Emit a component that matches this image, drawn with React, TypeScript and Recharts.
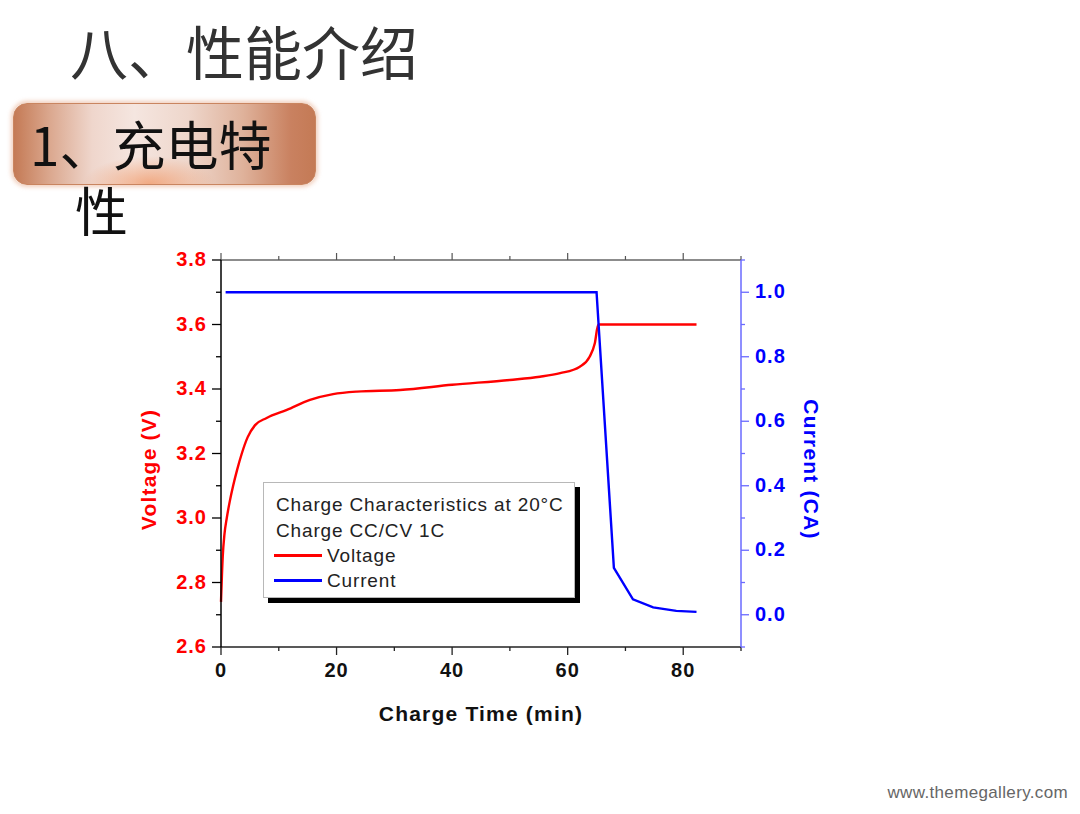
import React from 'react';
import { LineChart, Line, XAxis, YAxis } from 'recharts';

// ---- data ----
const timeMajorTicks = [0, 20, 40, 60, 80];
const timeMinorTicks = [10, 30, 50, 70, 90];
const voltageMajorTicks = [2.6, 2.8, 3.0, 3.2, 3.4, 3.6, 3.8];
const voltageMinorTicks = [2.7, 2.9, 3.1, 3.3, 3.5, 3.7];
const currentMajorTicks = [0.0, 0.2, 0.4, 0.6, 0.8, 1.0];
const currentMinorTicks = [-0.1, 0.1, 0.3, 0.5, 0.7, 0.9, 1.1];

const voltageTime = [0, 0.3, 0.6, 1.0, 1.5, 2.1, 2.8, 3.6, 4.6, 5.9, 7.9, 11.4, 15.4, 19.4, 23.5, 31, 40, 50, 55.2, 58.7, 62.1, 63.8, 64.7, 65.3, 82.3];
const voltageValues = [2.74, 2.88, 2.95, 3.0, 3.05, 3.1, 3.15, 3.2, 3.25, 3.288, 3.31, 3.335, 3.366, 3.384, 3.392, 3.397, 3.413, 3.428, 3.438, 3.449, 3.469, 3.5, 3.542, 3.6, 3.6];

const currentTime = [0.8, 65.0, 68.0, 71.3, 74.8, 78.8, 82.3];
const currentValues = [1.0, 1.0, 0.145, 0.048, 0.023, 0.012, 0.009];

const voltageData = voltageTime.map((t, i) => ({ time: t, voltage: voltageValues[i] }));
const currentData = currentTime.map((t, i) => ({ time: t, current: currentValues[i] }));

const sortNum = (a: number[]) => [...a].sort((p, q) => p - q);
const timeTicks = sortNum([...timeMajorTicks, ...timeMinorTicks]);
const voltageTicks = sortNum([...voltageMajorTicks, ...voltageMinorTicks]);
const currentTicks = sortNum([...currentMajorTicks, ...currentMinorTicks]);

const isIn = (arr: number[], v: number) => arr.some((a) => Math.abs(a - v) < 1e-6);

const FONT = '"Liberation Sans", Arial, sans-serif';
const CJK = '"Noto Sans CJK SC", sans-serif';
const RED = '#ff0000';
const BLUE = '#0000ff';
const AXIS_BLUE = '#6a6aff';

const labelStyle = {
  fontFamily: FONT,
  fontSize: 20,
  fontWeight: 700,
  letterSpacing: 1,
};

const LeftTick = (props: any) => {
  const { x, y, payload } = props;
  const v = payload.value;
  const major = isIn(voltageMajorTicks, v);
  const len = major ? 9 : 5;
  return (
    <g>
      <line x1={x} x2={x - len} y1={y} y2={y} stroke="#000" strokeWidth={1.3} />
      {major && (
        <text x={x - 14} y={y + 6} textAnchor="end" fill={RED} style={labelStyle}>
          {v.toFixed(1)}
        </text>
      )}
    </g>
  );
};

const RightTick = (props: any) => {
  const { x, y, payload } = props;
  const v = payload.value;
  const major = isIn(currentMajorTicks, v);
  const len = major ? 8 : 4;
  return (
    <g>
      <line x1={x} x2={x + len} y1={y} y2={y} stroke={AXIS_BLUE} strokeWidth={1.3} />
      {major && (
        <text x={x + 14} y={y + 6} textAnchor="start" fill={BLUE} style={labelStyle}>
          {Math.abs(v).toFixed(1)}
        </text>
      )}
    </g>
  );
};

const BottomTick = (props: any) => {
  const { x, y, payload } = props;
  const v = payload.value;
  const major = isIn(timeMajorTicks, v);
  const len = major ? 8 : 4;
  return (
    <g>
      <line x1={x} x2={x} y1={y} y2={y + len} stroke="#222" strokeWidth={1.3} />
      {major && (
        <text x={x} y={y + 30} textAnchor="middle" fill="#111" style={labelStyle}>
          {String(v)}
        </text>
      )}
    </g>
  );
};

const TopTick = (props: any) => {
  const { x, y, payload } = props;
  const v = payload.value;
  const major = isIn(timeMajorTicks, v);
  const len = major ? 7 : 4;
  return <line x1={x} x2={x} y1={y} y2={y - len} stroke="#555" strokeWidth={1.2} />;
};

const titleStyle = {
  fontFamily: FONT,
  fontSize: 21,
  fontWeight: 700,
  letterSpacing: 1.2,
};

const VoltageLabel = (props: any) => {
  const vb = props.viewBox || {};
  const cx = vb.x + 7;
  const cy = vb.y + vb.height / 2 + 16;
  return (
    <text
      x={cx}
      y={cy}
      textAnchor="middle"
      dominantBaseline="central"
      fill={RED}
      transform={`rotate(-90 ${cx} ${cy})`}
      style={titleStyle}
    >
      Voltage (V)
    </text>
  );
};

const CurrentLabel = (props: any) => {
  const vb = props.viewBox || {};
  const cx = vb.x + 70;
  const cy = vb.y + vb.height / 2 + 16;
  return (
    <text
      x={cx}
      y={cy}
      textAnchor="middle"
      dominantBaseline="central"
      fill={BLUE}
      transform={`rotate(90 ${cx} ${cy})`}
      style={titleStyle}
    >
      Current (CA)
    </text>
  );
};

const TimeLabel = (props: any) => {
  const vb = props.viewBox || {};
  const cx = vb.x + vb.width / 2;
  const cy = vb.y + 66;
  return (
    <text x={cx} y={cy} textAnchor="middle" dominantBaseline="central" fill="#111" style={titleStyle}>
      Charge Time (min)
    </text>
  );
};

const legendLines = ['Charge Characteristics at 20°C', 'Charge CC/CV 1C'];
const legendSeries = [
  { name: 'Voltage', color: RED },
  { name: 'Current', color: BLUE },
];

export default function App() {
  return (
    <div
      style={{
        position: 'absolute',
        left: 0,
        top: 0,
        width: 1080,
        height: 814,
        background: '#fff',
        overflow: 'hidden',
      }}
    >
      {/* Slide title */}
      <div
        style={{
          position: 'absolute',
          left: 70,
          top: 21,
          fontFamily: CJK,
          fontSize: 58,
          lineHeight: '58px',
          color: '#333',
          whiteSpace: 'nowrap',
        }}
      >
        八、性能介绍
      </div>

      {/* Sub-title box */}
      <div
        style={{
          position: 'absolute',
          left: 13,
          top: 103,
          width: 303,
          height: 82,
          borderRadius: 14,
          border: '1px solid #c98560',
          boxShadow: '0 0 4px 2px rgba(232,175,145,0.6)',
          background:
            'radial-gradient(ellipse 22% 35% at 45% 100%, rgba(240,150,100,0.75), rgba(240,150,100,0) 100%), linear-gradient(90deg, #c47a55 0%, #dba88f 12%, #efd6cc 26%, #f5e6e0 40%, #eed6cb 58%, #dfb29b 76%, #c98160 92%, #c47a55 100%)',
          boxSizing: 'border-box',
        }}
      />
      {/* Sub-title text: wraps, second line indented */}
      <div
        style={{
          position: 'absolute',
          left: 75,
          top: 110,
          width: 215,
          textIndent: -45,
          fontFamily: CJK,
          fontSize: 53,
          lineHeight: '66px',
          color: '#111',
        }}
      >
        1、充电特性
      </div>

      {/* Chart */}
      <div style={{ position: 'absolute', left: 0, top: 0 }}>
        <LineChart width={1080} height={814} margin={{ top: 250, right: 259, bottom: 87, left: 141 }}>
          <XAxis
            xAxisId="bottom"
            dataKey="time"
            type="number"
            orientation="bottom"
            domain={[0, 90]}
            ticks={timeTicks}
            interval={0}
            height={80}
            tickSize={0}
            tickMargin={0}
            tickLine={false}
            axisLine={{ stroke: '#222', strokeWidth: 1.5 }}
            tick={BottomTick}
            label={TimeLabel}
          />
          <XAxis
            xAxisId="top"
            dataKey="time"
            type="number"
            orientation="top"
            domain={[0, 90]}
            ticks={timeTicks}
            interval={0}
            height={10}
            tickSize={0}
            tickMargin={0}
            tickLine={false}
            axisLine={{ stroke: '#666', strokeWidth: 1.3 }}
            tick={TopTick}
          />
          <YAxis
            yAxisId="left"
            orientation="left"
            type="number"
            domain={[2.6, 3.8]}
            ticks={voltageTicks}
            interval={0}
            width={80}
            tickSize={0}
            tickMargin={0}
            tickLine={false}
            axisLine={{ stroke: '#000', strokeWidth: 1.5 }}
            tick={LeftTick}
            label={VoltageLabel}
          />
          <YAxis
            yAxisId="right"
            orientation="right"
            type="number"
            domain={[-0.1, 1.1]}
            ticks={currentTicks}
            interval={0}
            width={80}
            tickSize={0}
            tickMargin={0}
            tickLine={false}
            axisLine={{ stroke: AXIS_BLUE, strokeWidth: 1.5 }}
            tick={RightTick}
            label={CurrentLabel}
          />
          <Line
            xAxisId="bottom"
            yAxisId="left"
            data={voltageData}
            dataKey="voltage"
            name="Voltage"
            type="monotone"
            stroke={RED}
            strokeWidth={2.4}
            dot={false}
            activeDot={false}
            isAnimationActive={false}
          />
          <Line
            xAxisId="top"
            yAxisId="right"
            data={currentData}
            dataKey="current"
            name="Current"
            type="linear"
            stroke={BLUE}
            strokeWidth={2.4}
            dot={false}
            activeDot={false}
            isAnimationActive={false}
          />
        </LineChart>
      </div>

      {/* Legend box */}
      <div
        style={{
          position: 'absolute',
          left: 263,
          top: 482,
          width: 312,
          height: 116,
          background: '#fff',
          border: '1px solid #b8b8b8',
          boxShadow: '5px 5px 0 #000',
          boxSizing: 'border-box',
          fontFamily: FONT,
          fontSize: 19,
          letterSpacing: 0.85,
          color: '#222',
        }}
      >
        {legendLines.map((t, i) => (
          <div
            key={t}
            style={{ position: 'absolute', left: 12, top: 9 + i * 26, lineHeight: '26px', whiteSpace: 'nowrap' }}
          >
            {t}
          </div>
        ))}
        {legendSeries.map((s, i) => (
          <div
            key={s.name}
            style={{
              position: 'absolute',
              left: 10,
              top: 60 + i * 25,
              height: 25,
              display: 'flex',
              alignItems: 'center',
              whiteSpace: 'nowrap',
            }}
          >
            <span style={{ display: 'inline-block', width: 48, height: 2.5, background: s.color, marginRight: 5 }} />
            <span style={{ lineHeight: '25px' }}>{s.name}</span>
          </div>
        ))}
      </div>

      {/* Footer */}
      <div
        style={{
          position: 'absolute',
          right: 12,
          top: 783,
          fontFamily: FONT,
          fontSize: 17,
          letterSpacing: 0.35,
          lineHeight: '20px',
          color: '#666',
          whiteSpace: 'nowrap',
        }}
      >
        www.themegallery.com
      </div>
    </div>
  );
}
